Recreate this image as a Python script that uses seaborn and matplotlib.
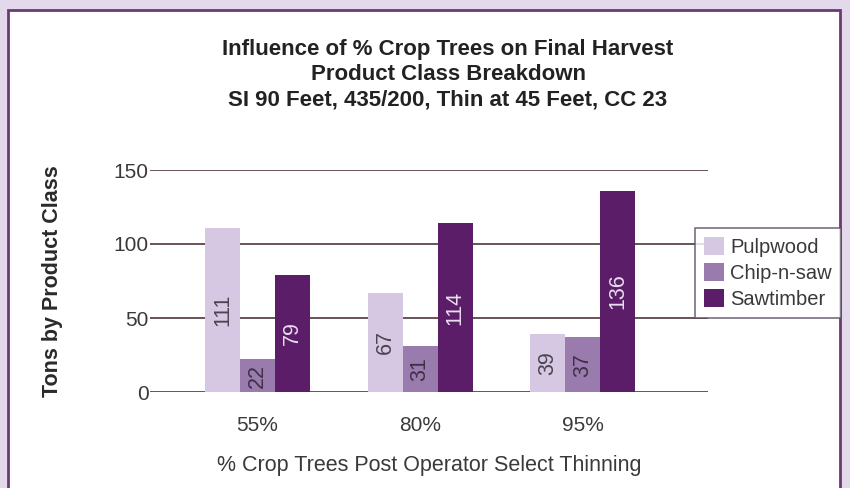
import numpy  as np
import pandas as pd
import seaborn as sns
from matplotlib import pyplot as plt
from matplotlib.patches import Rectangle

sns.set_theme(style="white")
plt.rcParams['font.family'] = ['Liberation Sans', 'DejaVu Sans']

# data
thinning   = ['55%', '80%', '95%']
classes    = ['Pulpwood', 'Chip-n-saw', 'Sawtimber']
pulpwood   = [111, 67, 39]
chipnsaw   = [22, 31, 37]
sawtimber  = [79, 114, 136]
y_ticks    = [0, 50, 100, 150]

colors     = ['#d6c8e2', '#9a7bae', '#5b1d68']
text_cols  = ['#4a4450', '#3e3046', '#e9def0']

df = pd.DataFrame({
    'thin'  : np.repeat(thinning, 3),
    'class' : classes * 3,
    'tons'  : [v for trio in zip(pulpwood, chipnsaw, sawtimber) for v in trio],
})

fig = plt.figure(figsize=(8.5, 4.88), dpi=100)
fig.patch.set_facecolor('#e4d9ea')
# the white card with a purple frame, behind everything
card = Rectangle((8/850, -0.05), 832/850, 1.05 - 10/488,
                 transform=fig.transFigure, facecolor='white',
                 edgecolor='#6a3b72', linewidth=2, zorder=-10)
fig.patches.append(card)

ax = fig.add_axes([150/850, 1-392/488, (708-150)/850, (392-170)/488])
ax.set_facecolor('none')

sns.barplot(data=df, x='thin', y='tons', hue='class', order=thinning,
            hue_order=classes, palette=colors, width=0.645, gap=0,
            saturation=1, linewidth=0, ax=ax, legend=True, zorder=3)

for cont, tc in zip(ax.containers, text_cols):
    ax.bar_label(cont, label_type='center', rotation=90, color=tc,
                 fontsize=15.5, zorder=4)

ax.set_ylim(0, 150)
ax.set_xlim(-0.66, 2.77)
ax.set_yticks(y_ticks)
for yv in y_ticks:
    ax.axhline(yv, color='#5c4448', linewidth=1.3, zorder=1)
for side in ['top', 'right', 'left', 'bottom']:
    ax.spines[side].set_visible(False)
ax.tick_params(axis='y', length=0, pad=1, labelsize=15, labelcolor='#3a3a3a')
ax.tick_params(axis='x', length=0, pad=17, labelsize=15, labelcolor='#3a3a3a')

ax.set_xlabel('% Crop Trees Post Operator Select Thinning', fontsize=15.5,
              color='#3a3a3a', labelpad=15)
ax.set_ylabel('')
fig.text(53/850, 1-281/488, 'Tons by Product Class', rotation=90,
         ha='center', va='center', fontsize=15.5, fontweight='bold', color='#2a2a2a')

title = ('Influence of % Crop Trees on Final Harvest\n'
         'Product Class Breakdown\n'
         'SI 90 Feet, 435/200, Thin at 45 Feet, CC 23')
fig.text(448/850, 1-75/488, title, ha='center', va='center', fontsize=16,
         fontweight='bold', color='#222222', linespacing=1.25)

leg = ax.legend(loc='upper left', bbox_to_anchor=(695/850, 1-228/488),
                bbox_transform=fig.transFigure, frameon=True, fancybox=False,
                fontsize=14.5, handlelength=1.0, handleheight=1.0,
                handletextpad=0.3, labelspacing=0.3, borderpad=0.45,
                borderaxespad=0, title=None)
leg.get_frame().set_edgecolor('#5a4a5e')
leg.get_frame().set_linewidth(1.2)
leg.set_zorder(5)
for t in leg.get_texts():
    t.set_color('#3a3a3a')

fig.savefig('out.png', dpi=100, facecolor=fig.get_facecolor())
